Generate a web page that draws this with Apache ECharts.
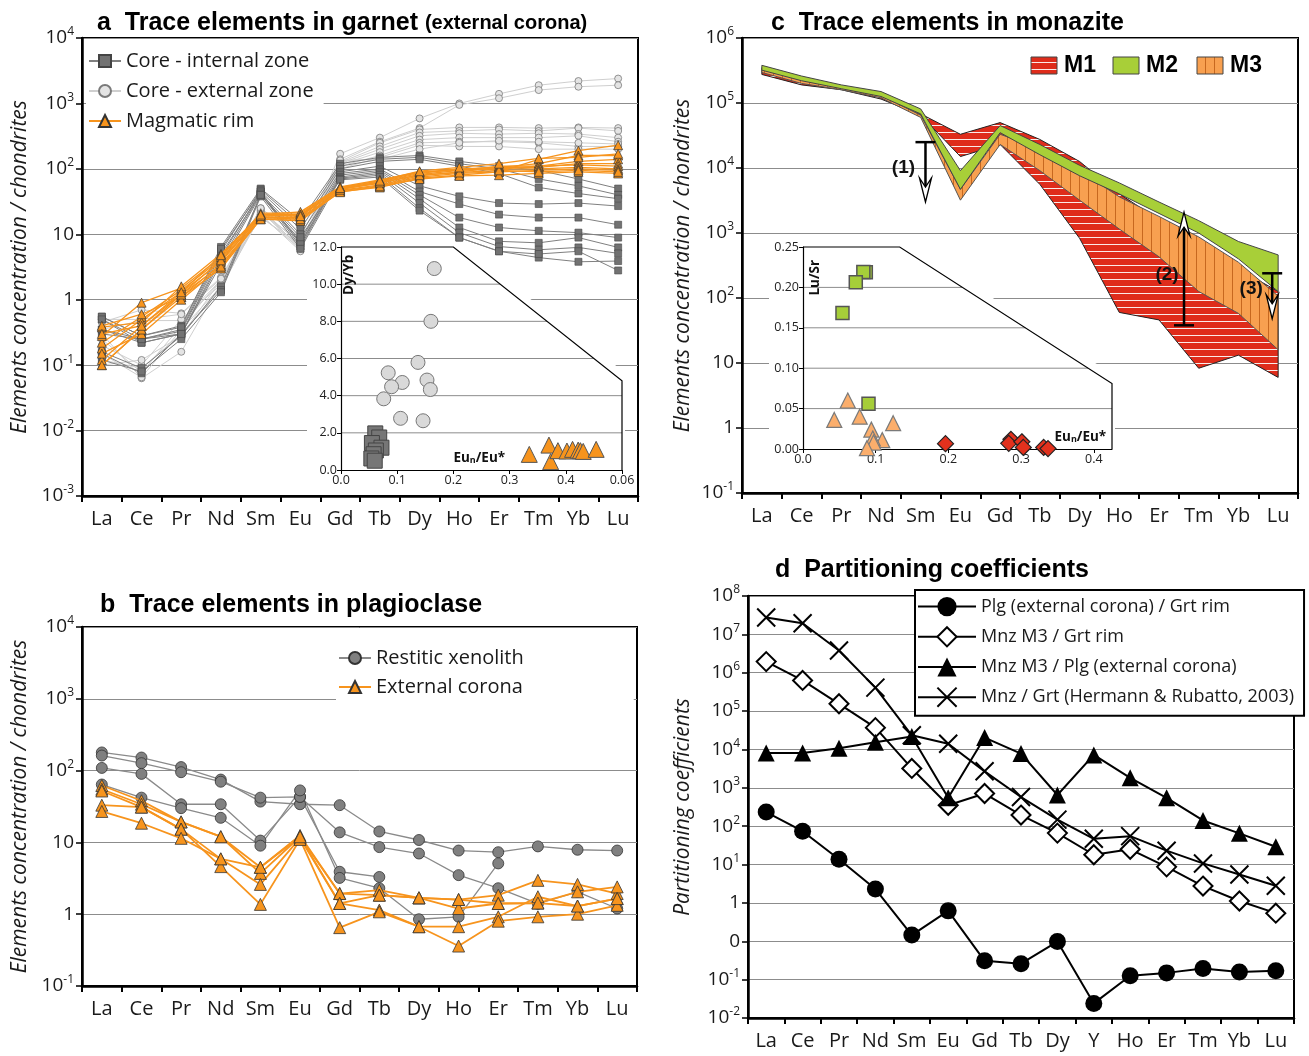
<!DOCTYPE html>
<html>
<head>
<meta charset="utf-8">
<script src="https://cdn.jsdelivr.net/npm/echarts@6/dist/echarts.min.js"></script>
<style>
  html, body { margin: 0; background: #fff; }
  #chart { width: 1309px; height: 1056px; }
</style>
</head>
<body>
<div id="chart"></div>
<script>
// ---- categories / tick labels ----
const REE = ['La','Ce','Pr','Nd','Sm','Eu','Gd','Tb','Dy','Ho','Er','Tm','Yb','Lu'];
const REE_Y = ['La','Ce','Pr','Nd','Sm','Eu','Gd','Tb','Dy','Y','Ho','Er','Tm','Yb','Lu'];
const TICKS_A = ['10^-3','10^-2','10^-1','1','10','10^2','10^3','10^4'];
const TICKS_B = ['10^-1','1','10','10^2','10^3','10^4'];
const TICKS_C = ['10^-1','1','10','10^2','10^3','10^4','10^5','10^6'];
const TICKS_D = ['10^-2','10^-1','0','1','10^1','10^2','10^3','10^4','10^5','10^6','10^7','10^8'];
const INSET_A_X = ['0.0','0.1','0.2','0.3','0.4','0.06'];
const INSET_A_GRID = [2, 4, 6, 8, 10];
const INSET_C_GRID = [0.05, 0.10, 0.15, 0.20];

// ---- a: garnet ----
const grtExternal = [
  [.45,.70,.62,2.2,25,6,170,300,590,1000,1400,1900,2200,2400],
  [.35,.48,.48,2.0,23,5.8,140,260,420,950,1200,1600,1800,1900],
  [.30,.063,.16,1.8,20,5.5,130,250,400,430,430,420,430,420],
  [.25,.077,.40,2.0,22,6.5,125,220,360,380,400,380,420,380],
  [.20,.10,.50,1.7,24,7,120,200,320,350,340,350,340,300],
  [.15,.065,.35,1.6,19,6,115,180,280,300,300,300,320,260],
  [.12,.09,.30,1.5,21,8,110,160,250,260,260,250,220,220],
  [.10,.12,.28,2.0,18,7,100,150,230,220,220,200,200,200],
  [.50,.50,.60,2.1,25,9,135,140,200,250,270,260,250,240]
];
const grtInternal = [
  [.55,.28,.40,6.4,50,16,120,150,160,130,110,95,70,50],
  [.50,.25,.35,5.5,48,14,110,140,150,120,100,70,55,40],
  [.35,.22,.30,4.5,45,12,100,130,140,110,85,52,42,35],
  [.30,.25,.33,5.0,42,10,90,110,55,38,30,29,30,27],
  [.16,.09,.28,1.6,40,8,85,100,45,29,20,18,18,14],
  [.55,.28,.38,6.0,45,7,80,95,40,18,12.7,11.3,10.6,8.9],
  [.50,.22,.30,4.0,42,6.5,75,90,35,12.7,7.8,7.4,8.9,6.3],
  [.15,.075,.30,1.4,40,7.5,72,85,30,10.6,6.5,5.8,6.3,5.1],
  [.12,.08,.25,1.3,38,6,70,80,25,8.9,5.5,4.4,3.8,3.9],
  [.35,.25,.30,3.5,40,9,68,75,23,8.9,5.5,5.0,5.5,2.8]
];
const grtRim = [
  [.10,.35,1.1,3.0,17,16,45,52,72,80,90,140,190,230],
  [.12,.40,1.2,3.3,18,17,47,57,78,90,105,120,160,160],
  [.18,.50,1.3,3.8,19,19,49,60,82,95,110,110,130,140],
  [.22,.55,1.4,4.2,20,20,50,63,85,100,105,105,120,120],
  [.28,.90,1.5,4.5,21,21,52,65,88,100,100,110,115,110],
  [.38,.45,1.6,5.0,20,22,53,68,90,95,100,100,105,100],
  [.40,.60,1.1,3.5,18,18,46,55,75,85,90,95,100,95],
  [.15,.30,1.0,3.2,17,17,44,54,70,78,80,85,90,85],
  [.10,.35,1.2,4.0,19,20,48,62,80,88,95,90,95,90],
  [.30,.40,1.3,4.8,20,19,51,66,92,105,120,145,150,170]
];
// inset a: Eu_n/Eu* vs Dy/Yb
const insetA_internal = [[.061,1.97],[.068,1.75],[.055,1.45],[.072,1.2],[.062,1.05],[.058,.85],[.054,.62],[.06,.5]];
const insetA_external = [[.166,10.84],[.160,8.0],[.137,5.79],[.084,5.23],[.153,4.84],[.109,4.71],[.090,4.48],[.159,4.33],[.076,3.83],[.106,2.78],[.146,2.65]];
const insetA_rim = [[.335,.84],[.37,1.34],[.373,.45],[.386,1.04],[.402,1.02],[.412,1.11],[.422,1.07],[.426,1.04],[.431,1.0],[.454,1.11]];

// ---- b: plagioclase ----
const plgRestitic = [
  [179,152,112,75,37,34,33,14.2,10.8,7.7,7.3,8.8,7.9,7.7],
  [162,127,95,70,42,43,13.8,8.6,7.0,3.5,2.3,1.4,2.05,1.2],
  [109,90,34,34,10.6,43,3.9,3.3,null,null,null,null,null,null],
  [64,42,30,22,9.0,53,3.2,2.3,0.85,0.92,5.1,null,null,null]
];
const plgCorona = [
  [62,38,19.3,12,4.5,12.5,1.94,2.16,1.69,1.6,1.84,2.96,2.6,1.94],
  [55,34,19.3,12,3.7,12,1.94,1.84,1.69,1.2,1.41,1.43,2.05,2.4],
  [52,31,15.3,5.9,2.6,11.5,1.41,1.14,0.67,0.67,0.92,1.75,1.3,1.65],
  [33,31,15.3,4.6,1.37,11,0.65,1.08,0.67,0.36,0.8,0.92,1.0,1.33],
  [27,18.5,11.4,5.9,4.5,12,1.41,1.84,1.69,1.6,1.41,1.43,1.3,1.65]
];

// ---- c: monazite envelopes ----
const m1Upper = [3.5e5,2.3e5,1.8e5,1.26e5,6.8e4,3.3e4,5.0e4,2.75e4,1.26e4,4.0e3,1.6e3,630,280,126];
const m1Lower = [2.75e5,1.9e5,1.6e5,1.15e5,6.5e4,1.5e4,2.3e4,5.6e3,830,60,46,8.3,13.2,6.0];
const m2Upper = [3.8e5,2.6e5,1.9e5,1.5e5,8.1e4,9.1e3,4.5e4,2.3e4,1.1e4,5.9e3,3.0e3,1.55e3,740,460];
const m2Lower = [3.2e5,2.2e5,1.66e5,1.26e5,6.8e4,4.7e3,3.5e4,1.6e4,7.6e3,4.0e3,2.0e3,1.0e3,400,126];
const m3Upper = [3.3e5,2.3e5,1.74e5,1.3e5,6.5e4,4.7e3,3.3e4,2.0e4,9.1e3,3.6e3,1.8e3,870,355,107];
const m3Lower = [2.95e5,2.0e5,1.6e5,1.2e5,6.0e4,3.2e3,2.3e4,9.1e3,3.2e3,1.15e3,430,126,58,16];
// inset c: Eu_n/Eu* vs Lu/Sr
const insetC_m2 = [[.0864,.2186],[.083,.219],[.0726,.2063],[.0543,.1683],[.0901,.0561]];
const insetC_m3 = [[.0616,.06],[.043,.036],[.078,.04],[.094,.024],[.124,.032],[.109,.011],[.096,.013],[.097,.008],[.088,.001]];
const insetC_m1 = [[.196,.0066],[.286,.012],[.283,.007],[.301,.009],[.303,.002],[.331,.002],[.337,.0005]];
// arrows: category position, start value, end value
const arrowsC = [
  { label: '(1)', x: 4.12, from: 2.5e4, to: 3.0e3, dx: -22, frac: 0.42 },
  { label: '(2)', x: 10.63, from: 38, to: 2.1e3, dx: -17, frac: 0.45 },
  { label: '(3)', x: 12.85, from: 240, to: 48, dx: -21, frac: 0.33 }
];

// ---- d: partitioning coefficients ----
const dPlgGrt = [234,74,13.8,2.3,0.145,0.62,0.031,0.026,0.098,0.0024,0.0126,0.015,0.0195,0.0158,0.017];
const dMnzGrt = [1.95e6,6.3e5,1.55e5,3.7e4,3.2e3,350,710,195,66,18,25,8.7,2.75,1.12,0.54];
const dMnzPlg = [8100,8100,10700,15500,21900,550,20400,7800,650,7200,1820,550,141,65,29];
const dHermann = [2.75e7,1.95e7,3.8e6,4.1e5,2.34e4,1.41e4,2690,575,148,47,55,23,10.7,5.5,2.8];

// ---- styling helpers ----
const FONT = '"Open Sans","Noto Sans",sans-serif';
const TFONT = '"Liberation Sans",Arial,sans-serif';
const ORANGE = '#f7941d';
const INK = '#1a1a1a';

const supRich = {
  b: { fontFamily: FONT, fontSize: 19, color: INK, lineHeight: 24 },
  s: { fontFamily: FONT, fontSize: 12, color: INK, verticalAlign: 'top', lineHeight: 12 }
};
function tickText(str) {
  if (str.indexOf('^') < 0) return '{b|' + str + '}';
  const p = str.split('^');
  return '{b|' + p[0] + '}{s|' + p[1] + '}';
}

function catAxis(gi, data) {
  return {
    type: 'category', gridIndex: gi, data, boundaryGap: true,
    axisLine: { show: true, lineStyle: { color: '#000', width: 2.5 } },
    axisTick: { show: true, length: 6, lineStyle: { color: '#000', width: 2 } },
    axisLabel: { fontFamily: FONT, fontSize: 20, color: INK, margin: 13, interval: 0 },
    splitLine: { show: false }
  };
}
function logAxis(gi, ticks, minExp, name, gap) {
  const maxExp = minExp + ticks.length - 1;
  return {
    type: 'log', logBase: 10, gridIndex: gi,
    min: Math.pow(10, minExp), max: Math.pow(10, maxExp), interval: 1,
    name, nameLocation: 'middle', nameGap: gap,
    nameTextStyle: { fontFamily: FONT, fontSize: 21, fontStyle: 'italic', color: INK },
    axisLine: { show: true, lineStyle: { color: '#000', width: 2.5 } },
    axisTick: { show: true, length: 6, lineStyle: { color: '#000', width: 1.5 } },
    axisLabel: {
      margin: 8, rich: supRich,
      formatter: v => tickText(ticks[Math.round(Math.log10(v)) - minExp] || '')
    },
    splitLine: { show: true, lineStyle: { color: '#8c8c8c', width: 1 } },
    minorTick: { show: false }
  };
}
function insetAxis(gi, min, max, interval, fmt) {
  return {
    type: 'value', gridIndex: gi, min, max, interval, z: 3,
    axisLine: { show: true, onZero: false, lineStyle: { color: '#000', width: 1.2 } },
    axisTick: { show: true, length: 4, lineStyle: { color: '#000', width: 1 } },
    axisLabel: { fontFamily: FONT, fontSize: 12.5, color: '#222', margin: 4, formatter: fmt, showMaxLabel: max !== 0.425 },
    splitLine: { show: false }
  };
}

function lines(list, gi, name, o) {
  return list.map(d => ({
    name, type: 'line', xAxisIndex: gi, yAxisIndex: gi, data: d, z: o.z || 2,
    symbol: o.symbol, symbolSize: o.size, connectNulls: false, animation: false,
    lineStyle: { color: o.line, width: o.width },
    itemStyle: { color: o.fill, borderColor: o.border, borderWidth: o.bw }
  }));
}

function makePattern(bg, lineColor, dir, step) {
  const c = document.createElement('canvas');
  c.width = step; c.height = step;
  const g = c.getContext('2d');
  g.fillStyle = bg; g.fillRect(0, 0, step, step);
  g.fillStyle = lineColor;
  if (dir === 'h') g.fillRect(0, step - 1, step, 1); else g.fillRect(step - 1, 0, 1, step);
  return { image: c, repeat: 'repeat' };
}
const patM1 = makePattern('#df2c1b', 'rgba(255,255,255,0.9)', 'h', 7);
const patM3 = makePattern('#f8a050', '#c7681f', 'v', 9);
const fillM2 = '#a8cf38';

function band(upper, lower, fill, stroke) {
  return {
    type: 'custom', xAxisIndex: 2, yAxisIndex: 2, data: [[0, upper[0]]], clip: false, z: 2,
    renderItem: (params, api) => {
      const pts = [];
      for (let i = 0; i < upper.length; i++) pts.push(api.coord([i, upper[i]]));
      for (let i = lower.length - 1; i >= 0; i--) pts.push(api.coord([i, lower[i]]));
      return { type: 'polygon', shape: { points: pts }, style: { fill, stroke, lineWidth: 1 } };
    }
  };
}

function insetFrame(gi, o) {
  return {
    type: 'custom', xAxisIndex: gi, yAxisIndex: gi, data: [[0, 0]], clip: false, z: 1, silent: true,
    renderItem: (params, api) => {
      const c = (x, y) => api.coord([x, y]);
      const TL = c(0, o.yMax), D1 = c(o.diagX, o.yMax), D2 = c(o.xMax, o.diagY), BR = c(o.xMax, 0), BL = c(0, 0);
      const kids = [{
        type: 'polygon',
        shape: { points: [[TL[0] - 34, TL[1] - 8], [D1[0], D1[1] - 8], [D2[0] + 3, D2[1] - 8], [BR[0] + 3, BR[1] + 24], [BL[0] - 34, BL[1] + 24]] },
        style: { fill: '#fff' }
      }];
      o.grid.forEach(t => {
        let xe = o.xMax;
        if (t > o.diagY) xe = o.diagX + (o.yMax - t) / (o.yMax - o.diagY) * (o.xMax - o.diagX);
        const a = c(0, t), b = c(xe, t);
        kids.push({ type: 'line', shape: { x1: a[0], y1: a[1], x2: b[0], y2: b[1] }, style: { stroke: '#8c8c8c', lineWidth: 1 } });
      });
      kids.push({ type: 'polyline', shape: { points: [TL, D1, D2, BR] }, style: { stroke: '#000', lineWidth: 1.2, fill: null } });
      return { type: 'group', children: kids };
    }
  };
}

function scatter(gi, data, symbol, size, fill, border, bw) {
  return {
    type: 'scatter', xAxisIndex: gi, yAxisIndex: gi, data, symbol, symbolSize: size, z: 4, animation: false,
    itemStyle: { color: fill, borderColor: border, borderWidth: bw, opacity: 1 }
  };
}

const titleRich = {
  n: { fontFamily: TFONT, fontSize: 25, fontWeight: 'bold', color: '#000' },
  s: { fontFamily: TFONT, fontSize: 20, fontWeight: 'bold', color: '#000' }
};
function title(text, left, top) {
  return { text, left, top, textStyle: { fontFamily: TFONT, fontSize: 25, fontWeight: 'bold', color: '#000', rich: titleRich } };
}
const legendText = { fontFamily: FONT, fontSize: 20, color: INK };

const series = [].concat(
  lines(grtExternal, 0, 'Core - external zone', { symbol: 'circle', size: 7, line: '#cfcfcf', width: 1, fill: '#e4e4e4', border: '#7a7a7a', bw: 0.8 }),
  lines(grtInternal, 0, 'Core - internal zone', { symbol: 'rect', size: 7, line: '#808080', width: 1, fill: '#727272', border: '#444', bw: 0.6 }),
  lines(grtRim, 0, 'Magmatic rim', { symbol: 'triangle', size: 9, line: ORANGE, width: 1.3, fill: ORANGE, border: '#333', bw: 0.7, z: 3 }),
  lines(plgRestitic, 1, 'Restitic xenolith', { symbol: 'circle', size: 11, line: '#8a8a8a', width: 1.3, fill: '#808080', border: '#333', bw: 0.8 }),
  lines(plgCorona, 1, 'External corona', { symbol: 'triangle', size: 12, line: ORANGE, width: 1.8, fill: ORANGE, border: '#333', bw: 0.8, z: 3 }),
  [band(m1Upper, m1Lower, patM1, '#222'), band(m3Upper, m3Lower, patM3, '#555'), band(m2Upper, m2Lower, fillM2, '#444')],
  lines([dPlgGrt], 3, 'Plg (external corona) / Grt rim', { symbol: 'circle', size: 17, line: '#000', width: 2, fill: '#000', border: '#000', bw: 0 }),
  lines([dMnzGrt], 3, 'Mnz M3 / Grt rim', { symbol: 'diamond', size: 19, line: '#000', width: 2, fill: '#fff', border: '#000', bw: 2 }),
  lines([dMnzPlg], 3, 'Mnz M3 / Plg (external corona)', { symbol: 'triangle', size: 17, line: '#000', width: 2, fill: '#000', border: '#000', bw: 0 }),
  lines([dHermann], 3, 'Mnz / Grt (Hermann & Rubatto, 2003)', { symbol: 'path://M0,0L10,10M10,0L0,10', size: 18, line: '#000', width: 2, fill: '#000', border: '#000', bw: 2 }),
  [insetFrame(4, { xMax: 0.5, yMax: 12, diagX: 0.2, diagY: 4.8, grid: INSET_A_GRID }),
   scatter(4, insetA_external, 'circle', 14, '#d9d9d9', '#777', 1),
   scatter(4, insetA_internal, 'rect', 15, '#767676', '#444', 1),
   scatter(4, insetA_rim, 'triangle', 16, ORANGE, '#555', 1),
   insetFrame(5, { xMax: 0.425, yMax: 0.25, diagX: 0.133, diagY: 0.081, grid: INSET_C_GRID }),
   scatter(5, insetC_m3, 'triangle', 15, '#fbae6c', '#7a7a7a', 1.2),
   scatter(5, insetC_m2, 'rect', 13, '#a6ce39', '#555', 1.5),
   scatter(5, insetC_m1, 'diamond', 16, '#e2311d', '#222', 1.2)]
);

const option = {
  backgroundColor: '#fff',
  animation: false,
  title: [
    title('{n|a  Trace elements in garnet} {s|(external corona)}', 92, 6),
    title('b  Trace elements in plagioclase', 95, 588),
    title('c  Trace elements in monazite', 766, 6),
    title('d  Partitioning coefficients', 770, 553)
  ],
  grid: [
    { left: 82, top: 38, width: 556, height: 458, show: true, borderColor: '#000', borderWidth: 2, outerBoundsMode: 'none' },
    { left: 82, top: 627, width: 555, height: 359, show: true, borderColor: '#000', borderWidth: 2, outerBoundsMode: 'none' },
    { left: 742, top: 38, width: 556, height: 455, show: true, borderColor: '#000', borderWidth: 2, outerBoundsMode: 'none' },
    { left: 748, top: 596, width: 546, height: 422, show: true, borderColor: '#000', borderWidth: 2, outerBoundsMode: 'none' },
    { left: 341, top: 247, width: 281, height: 223, show: false, outerBoundsMode: 'none' },
    { left: 803, top: 247, width: 309, height: 202, show: false, outerBoundsMode: 'none' }
  ],
  xAxis: [
    catAxis(0, REE), catAxis(1, REE), catAxis(2, REE), catAxis(3, REE_Y),
    insetAxis(4, 0, 0.5, 0.1, v => INSET_A_X[Math.round(v * 10)]),
    insetAxis(5, 0, 0.425, 0.1, v => v.toFixed(1))
  ],
  yAxis: [
    logAxis(0, TICKS_A, -3, 'Elements concentration / chondrites', 51),
    logAxis(1, TICKS_B, -1, 'Elements concentration / chondrites', 51),
    logAxis(2, TICKS_C, -1, 'Elements concentration / chondrites', 48),
    logAxis(3, TICKS_D, -3, 'Partitioning coefficients', 54),
    insetAxis(4, 0, 12, 2, v => v.toFixed(1)),
    insetAxis(5, 0, 0.25, 0.05, v => v.toFixed(2))
  ],
  legend: [
    { left: 86, top: 48, orient: 'vertical', selectedMode: false, itemWidth: 32, itemHeight: 15, itemGap: 10,
      data: ['Core - internal zone', 'Core - external zone', 'Magmatic rim'], textStyle: legendText,
      backgroundColor: '#fff', padding: [3, 10, 3, 2] },
    { left: 336, top: 645, orient: 'vertical', selectedMode: false, itemWidth: 32, itemHeight: 15, itemGap: 9,
      data: ['Restitic xenolith', 'External corona'], textStyle: legendText,
      backgroundColor: '#fff', padding: [3, 110, 3, 2] },
    { left: 915, top: 590, orient: 'vertical', selectedMode: false, itemWidth: 58, itemHeight: 24, itemGap: 10,
      data: ['Plg (external corona) / Grt rim', 'Mnz M3 / Grt rim', 'Mnz M3 / Plg (external corona)', 'Mnz / Grt (Hermann & Rubatto, 2003)'],
      textStyle: { fontFamily: FONT, fontSize: 18, color: INK },
      backgroundColor: '#fff', borderColor: '#000', borderWidth: 2, padding: [7, 10, 8, 2] }
  ],
  series
};

const chart = echarts.init(document.getElementById('chart'), null, { renderer: 'canvas' });
chart.setOption(option);

// annotations placed from data coordinates
function catPx(gi, xf, y) {
  const i = Math.floor(xf), f = xf - i;
  const a = chart.convertToPixel({ gridIndex: gi }, [i, y]);
  const b = chart.convertToPixel({ gridIndex: gi }, [i + 1, y]);
  return [a[0] + (b[0] - a[0]) * f, a[1]];
}
const g = [];
arrowsC.forEach(a => {
  const p0 = catPx(2, a.x, a.from), p1 = catPx(2, a.x, a.to);
  const dir = p1[1] > p0[1] ? 1 : -1;
  g.push({ type: 'line', shape: { x1: p0[0], y1: p0[1], x2: p1[0], y2: p1[1] - dir * 8 }, style: { stroke: '#000', lineWidth: 2.5 }, z: 10 });
  g.push({ type: 'line', shape: { x1: p0[0] - 10, y1: p0[1], x2: p0[0] + 10, y2: p0[1] }, style: { stroke: '#000', lineWidth: 2.5 }, z: 10 });
  g.push({ type: 'polygon', shape: { points: [[p1[0], p1[1]], [p1[0] - 6, p1[1] - dir * 24], [p1[0], p1[1] - dir * 15], [p1[0] + 6, p1[1] - dir * 24]] },
    style: { fill: '#fff', stroke: '#000', lineWidth: 1.3 }, z: 11 });
  g.push({ type: 'text', x: p0[0] + a.dx, y: p0[1] + (p1[1] - p0[1]) * a.frac, z: 12,
    style: { text: a.label, fontFamily: TFONT, fontSize: 19, fontWeight: 'bold', fill: '#111', align: 'center', verticalAlign: 'middle' } });
});
// legend c
[['M1', patM1, 1031], ['M2', fillM2, 1113], ['M3', patM3, 1197]].forEach(([t, f, x]) => {
  g.push({ type: 'rect', shape: { x, y: 57, width: 26, height: 17 }, style: { fill: f, stroke: '#444', lineWidth: 1 }, z: 10 });
  g.push({ type: 'text', x: x + 33, y: 66, z: 10, style: { text: t, fontFamily: TFONT, fontSize: 23, fontWeight: 'bold', fill: '#000', verticalAlign: 'middle' } });
});
// inset labels
const subRich = {
  b: { fontFamily: FONT, fontSize: 13.5, fontWeight: 'bold', fill: '#111' },
  n: { fontFamily: FONT, fontSize: 9, fontWeight: 'bold', fill: '#111', verticalAlign: 'bottom', padding: [6, 0, 0, 0] }
};
const pA1 = chart.convertToPixel({ gridIndex: 4 }, [0.015, 10.5]);
const pA2 = chart.convertToPixel({ gridIndex: 4 }, [0.2, 0.65]);
const pC1 = chart.convertToPixel({ gridIndex: 5 }, [0.017, 0.212]);
const pC2 = chart.convertToPixel({ gridIndex: 5 }, [0.417, 0.015]);
g.push({ type: 'text', x: pA1[0], y: pA1[1], rotation: Math.PI / 2, z: 12,
  style: { text: 'Dy/Yb', fontFamily: FONT, fontSize: 13.5, fontWeight: 'bold', fill: '#111', align: 'center', verticalAlign: 'middle' } });
g.push({ type: 'text', x: pA2[0], y: pA2[1], z: 12,
  style: { text: '{b|Eu}{n|n}{b|/Eu*}', rich: subRich, align: 'left', verticalAlign: 'middle' } });
g.push({ type: 'text', x: pC1[0], y: pC1[1], rotation: Math.PI / 2, z: 12,
  style: { text: 'Lu/Sr', fontFamily: FONT, fontSize: 13.5, fontWeight: 'bold', fill: '#111', align: 'center', verticalAlign: 'middle' } });
g.push({ type: 'text', x: pC2[0], y: pC2[1], z: 12,
  style: { text: '{b|Eu}{n|n}{b|/Eu*}', rich: subRich, align: 'right', verticalAlign: 'middle' } });

chart.setOption({ graphic: g });
</script>
</body>
</html>
